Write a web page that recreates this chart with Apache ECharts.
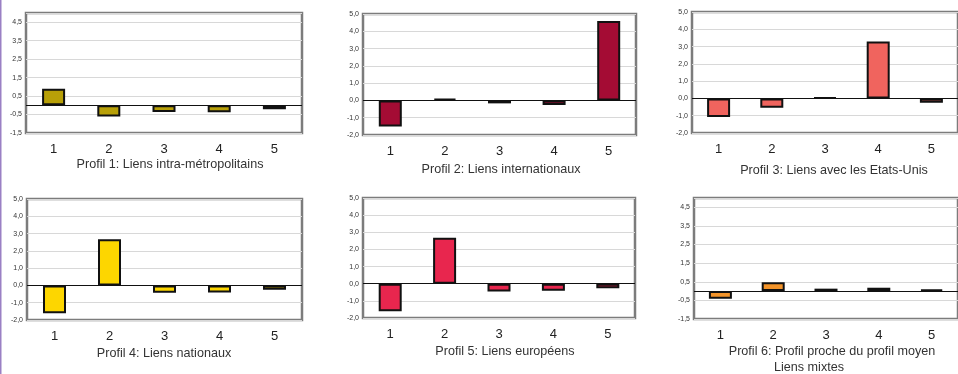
<!DOCTYPE html>
<html>
<head>
<meta charset="utf-8">
<script src="https://cdn.jsdelivr.net/npm/echarts@6/dist/echarts.min.js"></script>
<style>
  html, body { margin: 0; padding: 0; background: #fff; }
  #chart { width: 958px; height: 374px; }
</style>
</head>
<body>
<div id="chart"></div>
<script>
// categories (clusters) on each x axis
const categories = ['1', '2', '3', '4', '5'];

// one small array per profile
const profil1 = [0.90, -0.61, -0.36, -0.37, -0.22];
const profil2 = [-1.51, 0.10, -0.17, -0.27, 4.59];
const profil3 = [-1.08, -0.54, 0.06, 3.29, -0.25];
const profil4 = [-1.61, 2.67, -0.43, -0.41, -0.25];
const profil5 = [-1.60, 2.68, -0.45, -0.41, -0.26];
const profil6 = [-0.41, 0.48, 0.13, 0.18, 0.09];

const titles = [
  ['Profil 1: Liens intra-métropolitains'],
  ['Profil 2: Liens internationaux'],
  ['Profil 3: Liens avec les Etats-Unis'],
  ['Profil 4: Liens nationaux'],
  ['Profil 5: Liens européens'],
  ['Profil 6: Profil proche du profil moyen', 'Liens mixtes']
];

// y ranges per panel
const yMins = [-1.5, -2, -2, -2, -2, -1.5];
const yMaxs = [5, 5, 5, 5, 5, 5];

const colors = ['#b8a008', '#a40c34', '#f0645e', '#fdd600', '#e8264e', '#f3942a'];

const panels = [
  { grid: { left: 26, top: 13, width: 276, height: 120 }, title: [{ x: 170, y: 165 }] },
  { grid: { left: 363, top: 14, width: 273, height: 121 }, title: [{ x: 501, y: 170 }] },
  { grid: { left: 692, top: 12, width: 273, height: 121 }, title: [{ x: 834, y: 171 }] },
  { grid: { left: 27, top: 199, width: 275, height: 121 }, title: [{ x: 164, y: 354 }] },
  { grid: { left: 363, top: 198, width: 272, height: 120 }, title: [{ x: 505, y: 352 }] },
  { grid: { left: 694, top: 198, width: 275, height: 121 }, title: [{ x: 832, y: 352 }, { x: 809, y: 368 }] }
];

const allData = [profil1, profil2, profil3, profil4, profil5, profil6];

const chart = echarts.init(document.getElementById('chart'));

const grids = [], xAxes = [], yAxes = [], series = [];
const graphics = [
  { type: 'rect', shape: { x: 0, y: 0, width: 1.5, height: 374 }, style: { fill: '#9a80c4' }, z: 100 }
];

panels.forEach((p, i) => {
  grids.push(Object.assign({ show: true, backgroundColor: '#fff', borderColor: '#7c7c7c', borderWidth: 2.5, z: 0 }, p.grid));
  xAxes.push({
    type: 'category',
    gridIndex: i,
    data: categories,
    axisLine: { show: false, onZero: false },
    axisTick: { show: false },
    axisLabel: { color: '#222', fontSize: 13, margin: 10, fontFamily: 'Liberation Sans' }
  });
  yAxes.push({
    type: 'value',
    gridIndex: i,
    min: yMins[i],
    max: yMaxs[i],
    interval: 1,
    axisLine: { show: false },
    axisTick: { show: false },
    splitLine: { lineStyle: { color: '#d8d8d8', width: 1 } },
    axisLabel: {
      showMaxLabel: yMins[i] === -2,
      fontSize: 7,
      color: '#333',
      margin: 4,
      fontFamily: 'Liberation Sans',
      formatter: v => v.toFixed(1).replace('.', ',')
    }
  });
  series.push({
    type: 'bar',
    xAxisIndex: i,
    yAxisIndex: i,
    data: allData[i],
    barWidth: 23,
    itemStyle: { color: colors[i], borderColor: '#111', borderWidth: 2 },
    markLine: {
      silent: true,
      symbol: 'none',
      label: { show: false },
      lineStyle: { color: '#111', type: 'solid', width: 1 },
      data: [{ yAxis: 0 }],
      z: 5
    }
  });
  p.title.forEach((t, k) => {
    graphics.push({
      type: 'text',
      x: t.x,
      y: t.y,
      style: {
        text: titles[i][k],
        fill: '#333',
        font: '12.6px "Liberation Sans"',
        textAlign: 'center',
        textVerticalAlign: 'middle'
      }
    });
  });
});

chart.setOption({
  animation: false,
  grid: grids,
  xAxis: xAxes,
  yAxis: yAxes,
  series: series,
  graphic: graphics
});
</script>
</body>
</html>
